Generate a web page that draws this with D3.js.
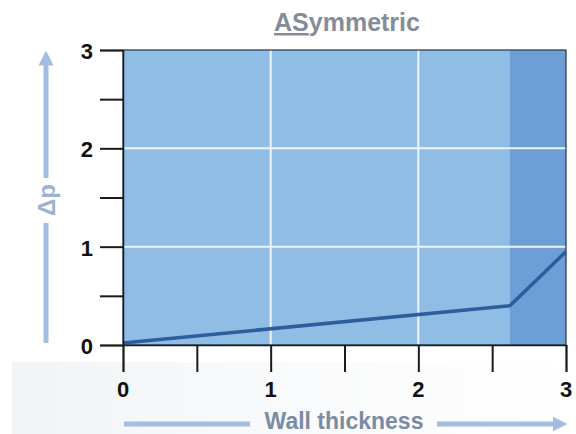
<!DOCTYPE html>
<html>
<head>
<meta charset="utf-8">
<script src="https://cdn.jsdelivr.net/npm/d3@7"></script>
<style>
  body { margin: 0; background: #fff; }
  text { font-family: "Liberation Sans", Arial, sans-serif; }
</style>
</head>
<body>
<div id="chart"></div>
<script>
// data
var thickness = [0, 2.62, 3];
var deltaP = [0.02, 0.4, 0.95];
var xTicks = [0, 0.5, 1, 1.5, 2, 2.5, 3];
var yTicks = [0, 0.5, 1, 1.5, 2, 2.5, 3];
var xLabels = [0, 1, 2, 3];
var yLabels = [0, 1, 2, 3];
var darkStart = 2.62;

var W = 576, H = 434;
var margin = {top: 50, right: 10, bottom: 89, left: 123},
    width = W - margin.left - margin.right,
    height = H - margin.top - margin.bottom;

var root = d3.select("#chart")
  .append("svg")
  .attr("width", W)
  .attr("height", H);

// very faint grey wash in the lower part of the screenshot
var defs = root.append("defs");
var grad = defs.append("linearGradient").attr("id", "wash")
  .attr("x1", 0).attr("y1", 0).attr("x2", 1).attr("y2", 0);
grad.append("stop").attr("offset", "0%").attr("stop-color", "#f1f4f7");
grad.append("stop").attr("offset", "50%").attr("stop-color", "#f9fafb");
grad.append("stop").attr("offset", "100%").attr("stop-color", "#ffffff");
root.append("rect")
  .attr("x", 12).attr("y", 362).attr("width", W - 12).attr("height", H - 362)
  .attr("fill", "url(#wash)");

var svg = root.append("g")
  .attr("transform", "translate(" + margin.left + "," + margin.top + ")");

var x = d3.scaleLinear().domain([0, 3]).range([0, width]);
var y = d3.scaleLinear().domain([0, 3]).range([height, 0]);

// plot background
svg.append("rect")
  .attr("x", 0).attr("y", 0)
  .attr("width", width).attr("height", height)
  .attr("fill", "#8fbde6");

svg.append("rect")
  .attr("x", x(darkStart)).attr("y", 0)
  .attr("width", x(3) - x(darkStart)).attr("height", height)
  .attr("fill", "#6c9fd6");

// white grid
svg.selectAll(".vgrid")
  .data(xLabels.filter(function(d) { return d > 0 && d < 3; }))
  .enter().append("line")
  .attr("x1", function(d) { return x(d); })
  .attr("x2", function(d) { return x(d); })
  .attr("y1", 0).attr("y2", height)
  .attr("stroke", "#eef5fc").attr("stroke-width", 2);

svg.selectAll(".hgrid")
  .data(yLabels.filter(function(d) { return d > 0 && d < 3; }))
  .enter().append("line")
  .attr("x1", 0).attr("x2", width)
  .attr("y1", function(d) { return y(d); })
  .attr("y2", function(d) { return y(d); })
  .attr("stroke", "#eef5fc").attr("stroke-width", 2);

// border
svg.append("rect")
  .attr("width", width).attr("height", height)
  .attr("fill", "none").attr("stroke", "#243447").attr("stroke-width", 1.2);

// the curve
var line = d3.line()
  .x(function(d, i) { return x(thickness[i]); })
  .y(function(d) { return y(d); });

svg.append("path")
  .datum(deltaP)
  .attr("d", line)
  .attr("fill", "none")
  .attr("stroke", "#2c5d9c")
  .attr("stroke-width", 3.5)
  .attr("stroke-linejoin", "round");

// axes
var xAxis = d3.axisBottom(x).tickValues(xTicks).tickSize(27).tickFormat("");
var yAxis = d3.axisLeft(y).tickValues(yTicks).tickSize(23).tickFormat("");

svg.append("g")
  .attr("transform", "translate(0," + height + ")")
  .call(xAxis)
  .call(function(g) {
    g.select(".domain").attr("stroke", "#1b1b1b").attr("stroke-width", 1.5);
    g.selectAll(".tick line").attr("stroke", "#1b1b1b").attr("stroke-width", 2);
  });

svg.append("g")
  .call(yAxis)
  .call(function(g) {
    g.select(".domain").attr("stroke", "#1b1b1b").attr("stroke-width", 1.5);
    g.selectAll(".tick line").attr("stroke", "#1b1b1b").attr("stroke-width", 2);
  });

svg.selectAll(".xlab")
  .data(xLabels)
  .enter().append("text")
  .attr("x", function(d) { return x(d); })
  .attr("y", height + 52)
  .attr("text-anchor", "middle")
  .attr("font-size", 22).attr("font-weight", "bold")
  .attr("fill", "#111")
  .text(function(d) { return d; });

svg.selectAll(".ylab")
  .data(yLabels)
  .enter().append("text")
  .attr("x", -30)
  .attr("y", function(d) { return y(d) + 9; })
  .attr("text-anchor", "end")
  .attr("font-size", 22).attr("font-weight", "bold")
  .attr("fill", "#111")
  .text(function(d) { return d; });

// title
var title = root.append("text")
  .attr("x", 347)
  .attr("y", 31)
  .attr("text-anchor", "middle")
  .attr("font-size", 25).attr("font-weight", "bold")
  .attr("fill", "#858c98");
title.append("tspan").attr("text-decoration", "underline").text("AS");
title.append("tspan").text("ymmetric");

// arrows
var arrowCol = "#a2bde0";
defs.append("marker").attr("id", "head")
  .attr("viewBox", "0 0 10 10").attr("refX", 5).attr("refY", 5)
  .attr("markerWidth", 3).attr("markerHeight", 3)
  .attr("orient", "auto")
  .append("path").attr("d", "M0,0 L10,5 L0,10 Z").attr("fill", arrowCol);

// x arrow with label
var ax = root.append("g");
ax.append("line").attr("x1", 124).attr("x2", 250).attr("y1", 424).attr("y2", 424)
  .attr("stroke", arrowCol).attr("stroke-width", 5);
ax.append("line").attr("x1", 437).attr("x2", 560).attr("y1", 424).attr("y2", 424)
  .attr("stroke", arrowCol).attr("stroke-width", 5)
  .attr("marker-end", "url(#head)");
ax.append("text")
  .attr("x", 344).attr("y", 429)
  .attr("text-anchor", "middle")
  .attr("font-size", 23).attr("font-weight", "bold")
  .attr("fill", "#7b8aa5")
  .text("Wall thickness");

// y arrow with label
var ay = root.append("g");
ay.append("line").attr("x1", 46).attr("x2", 46).attr("y1", 343).attr("y2", 223)
  .attr("stroke", arrowCol).attr("stroke-width", 5);
ay.append("line").attr("x1", 46).attr("x2", 46).attr("y1", 178).attr("y2", 58)
  .attr("stroke", arrowCol).attr("stroke-width", 5)
  .attr("marker-end", "url(#head)");
ay.append("text")
  .attr("transform", "translate(55,200) rotate(-90)")
  .attr("text-anchor", "middle")
  .attr("font-size", 24).attr("font-weight", "bold")
  .attr("fill", "#9cb3d4")
  .text("Δp");
</script>
</body>
</html>
